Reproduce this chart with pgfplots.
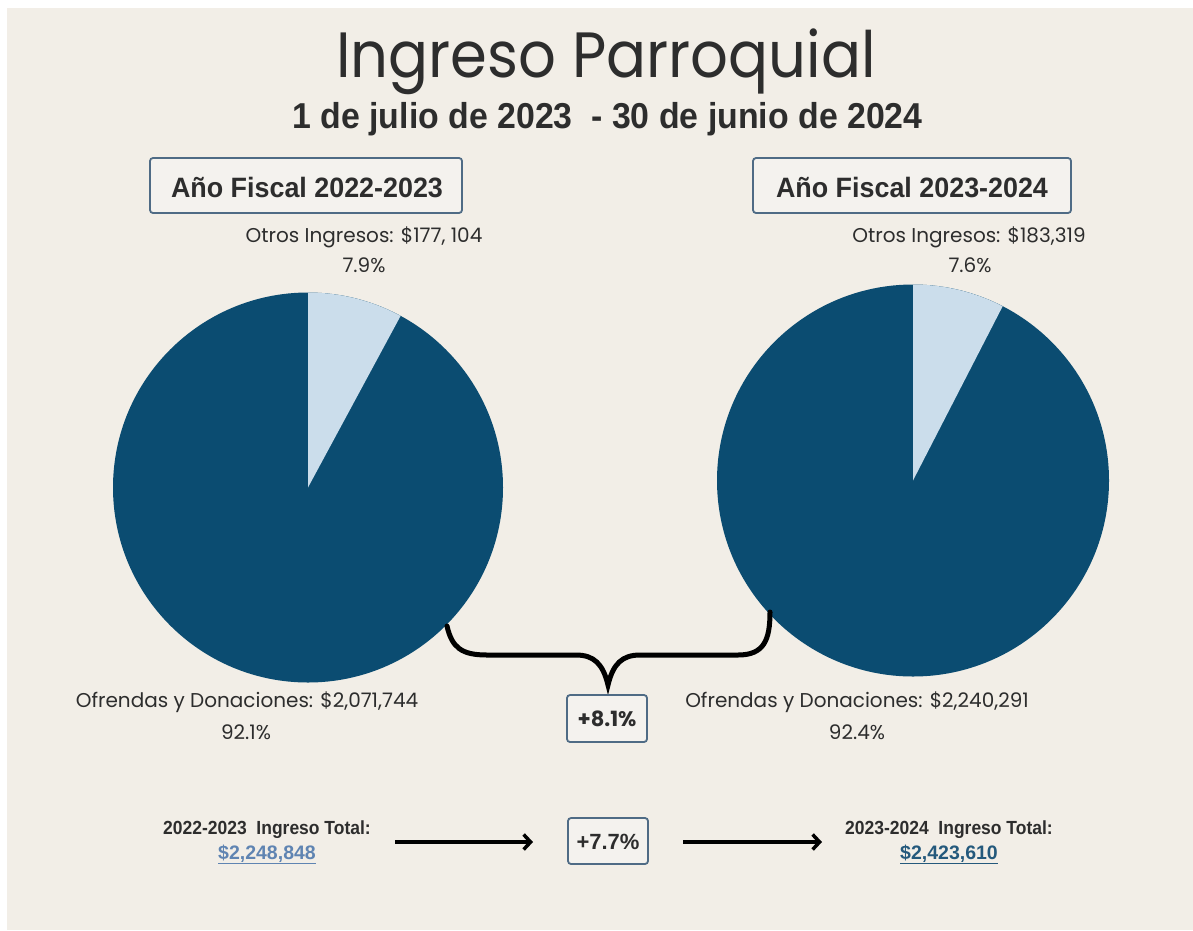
\documentclass[border=0pt]{standalone}
\usepackage{pgfplots}
\pgfplotsset{compat=1.18}
\usepackage{pgfplotstable}
\usepackage{fontspec}
\usepackage{graphicx}
\usetikzlibrary{arrows.meta}
\setmainfont{Liberation Sans}
\newfontfamily\pop{Poppins}
\definecolor{bg}{HTML}{F2EEE7}
\definecolor{pieDark}{HTML}{0B4C71}
\definecolor{pieLight}{HTML}{CBDDEB}
\definecolor{txt}{HTML}{2D2D2D}
\definecolor{boxline}{HTML}{4F6B85}
\definecolor{boxfill}{HTML}{F4F2EE}
\definecolor{linkA}{HTML}{5F84B2}
\definecolor{linkB}{HTML}{24597C}

% Año Fiscal 2022-2023
\pgfplotstableread{
cat value
Otros 177104
Ofrendas 2071744
}\dataA
% Año Fiscal 2023-2024
\pgfplotstableread{
cat value
Otros 183319
Ofrendas 2240291
}\dataB

\pgfplotstablegetelem{0}{value}\of\dataA \let\oA\pgfplotsretval
\pgfplotstablegetelem{1}{value}\of\dataA \let\fA\pgfplotsretval
\pgfplotstablegetelem{0}{value}\of\dataB \let\oB\pgfplotsretval
\pgfplotstablegetelem{1}{value}\of\dataB \let\fB\pgfplotsretval
\edef\angA{\fpeval{90-360*\oA/(\oA+\fA)}}
\edef\angB{\fpeval{90-360*\oB/(\oB+\fB)}}

\newcommand\fs[1]{\fontsize{#1}{#1}\selectfont}

\begin{document}
\begin{tikzpicture}
\fill[white] (0pt,0pt) rectangle (1193pt,-930pt);
\fill[bg] (7pt,-8pt) rectangle (1193pt,-930pt);

% left pie
\begin{axis}[at={(308pt,-487.5pt)}, anchor=center, scale only axis,
  width=390pt, height=390pt, xmin=-1, xmax=1, ymin=-1, ymax=1,
  hide axis, clip=false]
  \fill[pieDark] (axis cs:0,0) circle[radius=195pt];
  \fill[pieLight] (axis cs:0,0) -- (axis cs:0,1) arc[start angle=90, end angle=\angA, radius=195pt] -- cycle;
\end{axis}
% right pie
\begin{axis}[at={(913pt,-480.5pt)}, anchor=center, scale only axis,
  width=392pt, height=392pt, xmin=-1, xmax=1, ymin=-1, ymax=1,
  hide axis, clip=false]
  \fill[pieDark] (axis cs:0,0) circle[radius=196pt];
  \fill[pieLight] (axis cs:0,0) -- (axis cs:0,1) arc[start angle=90, end angle=\angB, radius=196pt] -- cycle;
\end{axis}

\begin{scope}[x=1pt,y=-1pt]
  % title
  \node[anchor=base, text=txt, inner sep=0] at (606,77) {\pop\fs{64}\scalebox{0.926}[1]{Ingreso Parroquial}};
  \node[anchor=base, text=txt, inner sep=0] at (607.5,128) {\bfseries\fs{36}\scalebox{0.94}[1]{1 de julio de 2023\ \ - 30 de junio de 2024}};
  % year boxes
  \draw[boxline, line width=1.8pt, rounded corners=3pt, fill=boxfill] (150,158) rectangle (462,213);
  \draw[boxline, line width=1.8pt, rounded corners=3pt, fill=boxfill] (753,158) rectangle (1071,213);
  \node[anchor=base, text=txt, inner sep=0] at (307,197) {\bfseries\fs{28}\scalebox{0.96}[1]{Año Fiscal 2022-2023}};
  \node[anchor=base, text=txt, inner sep=0] at (912,197) {\bfseries\fs{28}\scalebox{0.96}[1]{Año Fiscal 2023-2024}};
  % Otros labels
  \node[anchor=base, text=txt, inner sep=0] at (364,242.5) {\pop\fs{20}Otros Ingresos: \$177, 104};
  \node[anchor=base, text=txt, inner sep=0] at (364,272) {\pop\fs{20}7.9\%};
  \node[anchor=base, text=txt, inner sep=0] at (969,242.5) {\pop\fs{20}Otros Ingresos: \$183,319};
  \node[anchor=base, text=txt, inner sep=0] at (970,272) {\pop\fs{20}7.6\%};
  % Ofrendas labels
  \node[anchor=base, text=txt, inner sep=0] at (247,707) {\pop\fs{20}Ofrendas y Donaciones: \$2,071,744};
  \node[anchor=base, text=txt, inner sep=0] at (246,739) {\pop\fs{20}92.1\%};
  \node[anchor=base, text=txt, inner sep=0] at (857,707) {\pop\fs{20}Ofrendas y Donaciones: \$2,240,291};
  \node[anchor=base, text=txt, inner sep=0] at (857,739) {\pop\fs{20}92.4\%};
  % brace
  \draw[line width=5pt, line cap=round, line join=miter, miter limit=4, black]
    (447,626) .. controls (452,648) and (462,655) .. (487,655) -- (576,655)
    .. controls (594,655) and (603,664) .. (608,685)
    .. controls (613,664) and (622,655) .. (640,655) -- (738,655)
    .. controls (764,655) and (770,640) .. (770,612);
  % +8.1% box
  \draw[boxline, line width=1.8pt, rounded corners=3pt, fill=boxfill] (567,695) rectangle (647,742);
  \node[anchor=base, text=txt, inner sep=0] at (607,726) {\pop\bfseries\fs{21}+8.1\%};
  % bottom totals
  \node[anchor=base, text=txt, inner sep=0] at (267,834) {\bfseries\fs{19}\scalebox{0.92}[1]{2022-2023\ \ Ingreso Total:}};
  \node[anchor=base, text=linkA, inner sep=0] at (267,859) {\bfseries\fs{19.5}\underline{\$2,248,848}};
  \node[anchor=base, text=txt, inner sep=0] at (949,834) {\bfseries\fs{19}\scalebox{0.92}[1]{2023-2024\ \ Ingreso Total:}};
  \node[anchor=base, text=linkB, inner sep=0] at (949,859) {\bfseries\fs{19.5}\underline{\$2,423,610}};
  \draw[line width=3.5pt, -{Straight Barb[length=7pt,width=15pt]}] (395,842) -- (533,842);
  \draw[line width=3.5pt, -{Straight Barb[length=7pt,width=15pt]}] (683,842) -- (822,842);
  \draw[boxline, line width=1.8pt, rounded corners=3pt, fill=boxfill] (568,818) rectangle (648,864);
  \node[anchor=base, text=txt, inner sep=0] at (608,849) {\bfseries\fs{22}+7.7\%};
\end{scope}
\end{tikzpicture}
\end{document}
